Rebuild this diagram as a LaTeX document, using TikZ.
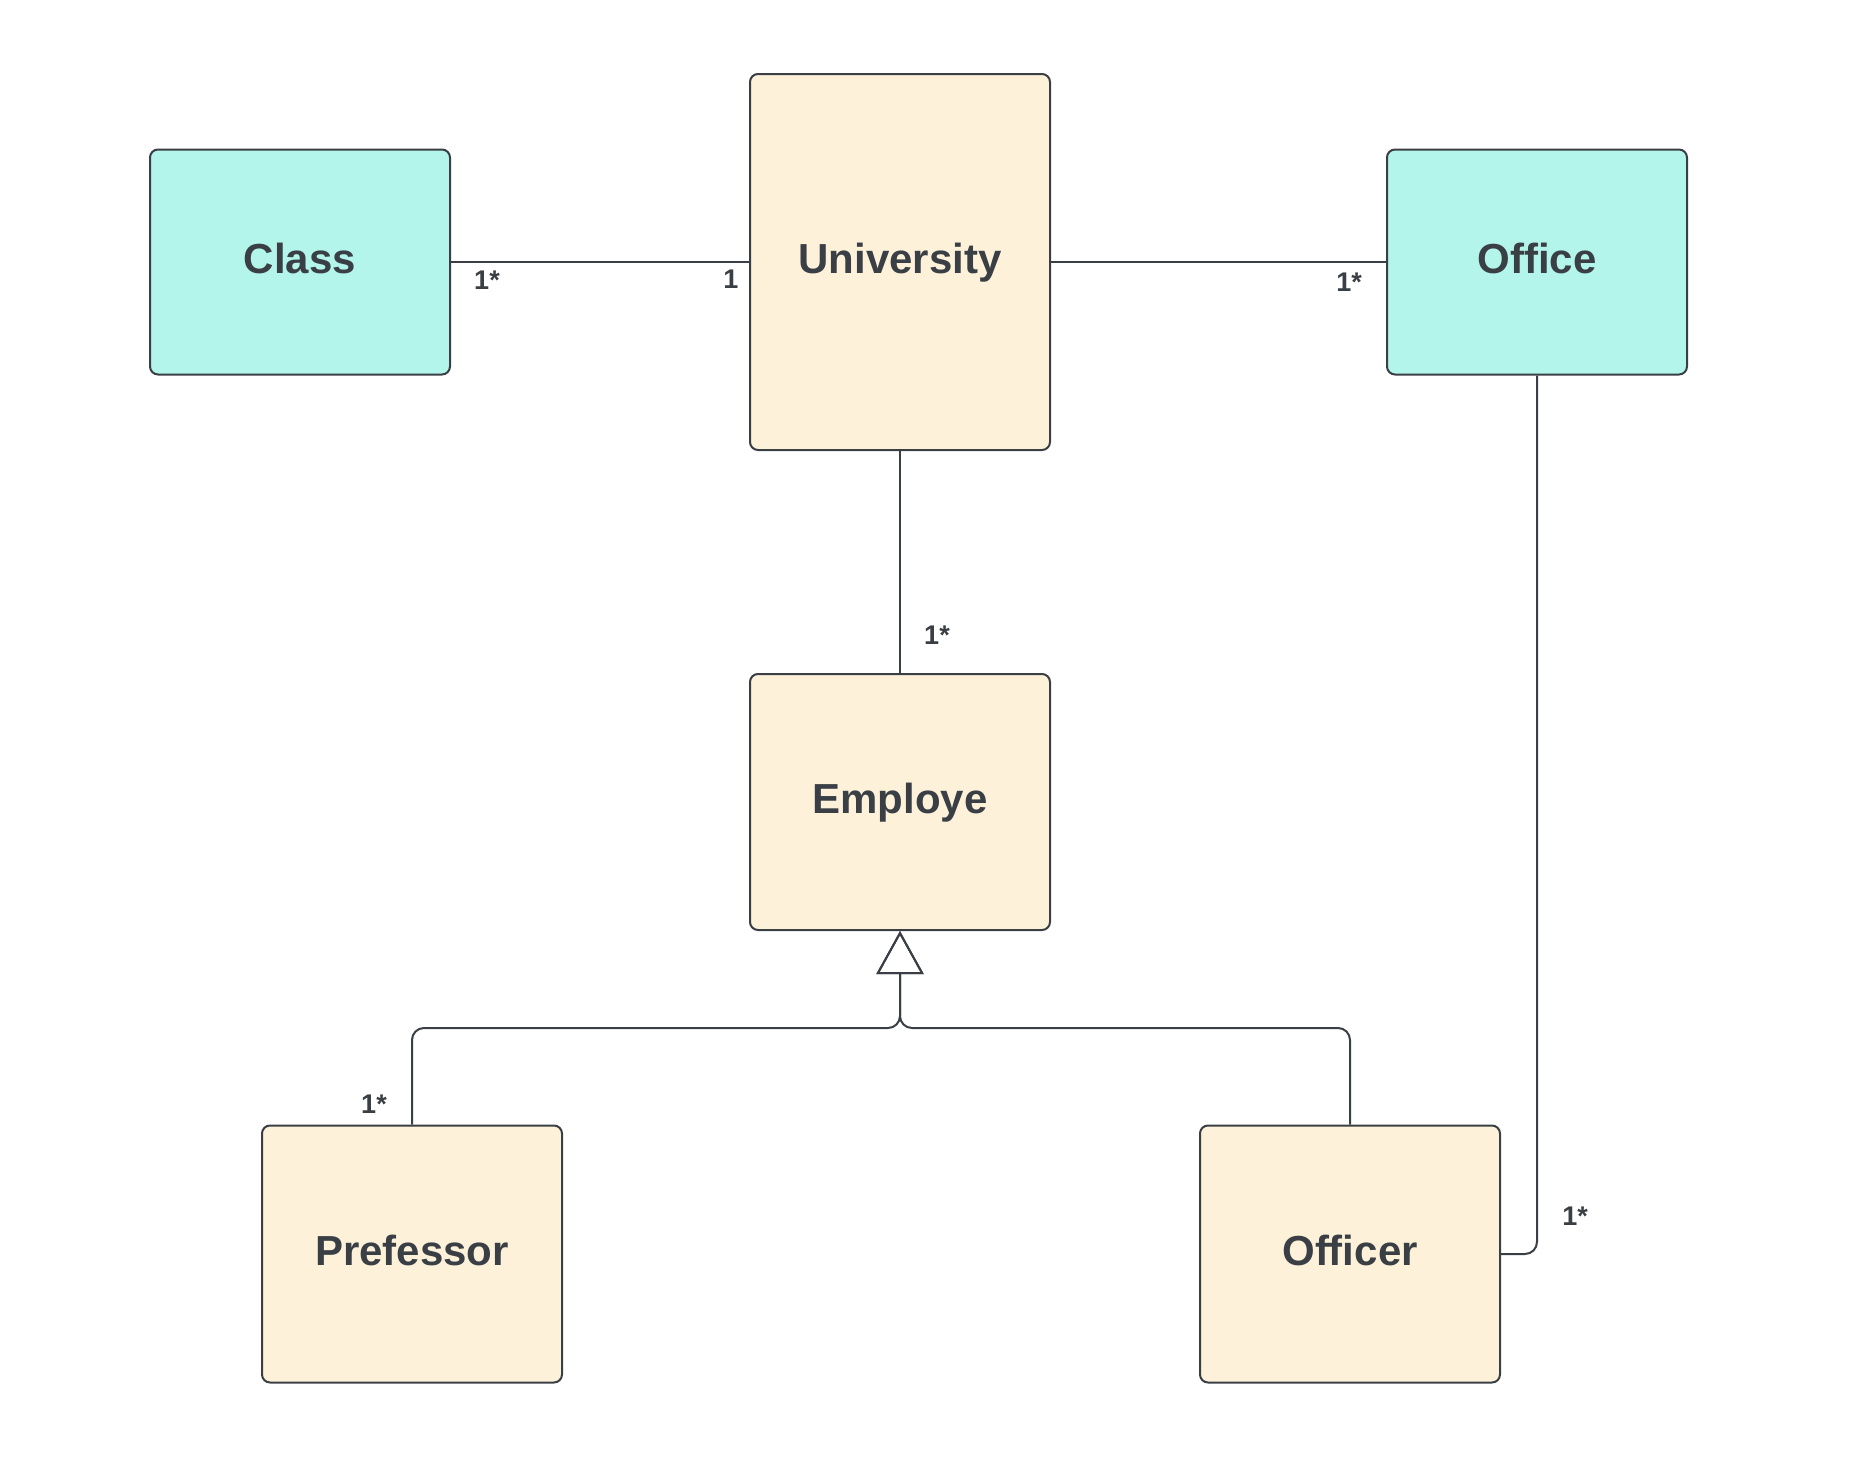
\documentclass[tikz,border=0pt]{standalone}
\usepackage{fontspec}
\setmainfont{Liberation Sans}
\usetikzlibrary{arrows.meta}

\definecolor{ink}{HTML}{3A3F45}
\definecolor{mint}{HTML}{B3F5EA}
\definecolor{cream}{HTML}{FDF2D9}

\begin{document}
\begin{tikzpicture}[x=1pt,y=-1pt,
  box/.style={draw=ink,line width=2pt,rounded corners=8pt,minimum width=300pt,
    text=ink,text height=30pt,text depth=8pt,
    font=\fontsize{42}{50}\selectfont\bfseries},
  entity/.style={box,fill=mint,minimum height=225pt},
  member/.style={box,fill=cream},
  mult/.style={text=ink,font=\fontsize{27}{32}\selectfont\bfseries},
  link/.style={draw=ink,line width=2pt,rounded corners=12pt},
  isa/.style={link,-{Triangle[open,length=43pt,width=47pt,line width=2pt]}}]
\useasboundingbox (0,0) rectangle (1875,1459);

\node[entity] (class) at (300,262) {Class};
\node[member,minimum height=376pt] (univ) at (900,262) {University};
\node[entity] (office) at (1537,262) {Office};
\node[member,minimum height=256pt] (emp) at (900,802) {Employe};
\node[member,minimum height=257pt] (prof) at (412,1254) {Prefessor};
\node[member,minimum height=257pt] (officer) at (1350,1254) {Officer};

\coordinate (join) at (900,1028);

\draw[link] (class) -- (univ);
\draw[link] (univ) -- (office);
\draw[link] (univ) -- (emp);
\draw[isa] (prof.north) |- (join) -- (emp.south);
\draw[isa] (officer.north) |- (join) -- (emp.south);
\draw[link] (office.south) |- (officer.east);

\node[mult] (m1) at (487,280) {1*};
\node[mult] (m2) at (731,279) {1};
\node[mult] (m3) at (1349,282) {1*};
\node[mult] (m4) at (937,635) {1*};
\node[mult] (m5) at (374,1104) {1*};
\node[mult] (m6) at (1575,1216) {1*};
\end{tikzpicture}
\end{document}
